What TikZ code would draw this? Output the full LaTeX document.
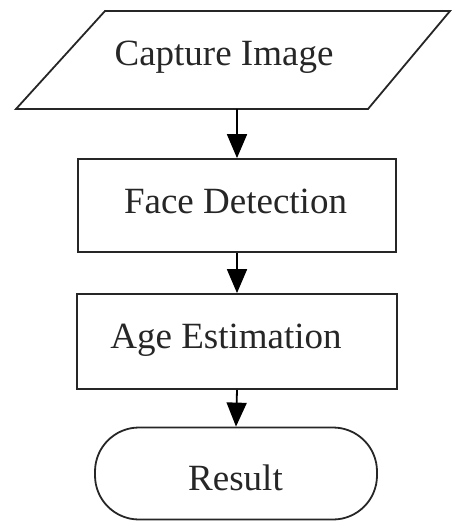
\documentclass[tikz,border=0pt]{standalone}
\usepackage{fontspec}
\setmainfont{Liberation Serif}
\usetikzlibrary{arrows.meta,shapes.misc}
\begin{document}
\begin{tikzpicture}[x=1pt,y=-1pt,
  shapeline/.style={draw=black!85,line width=1.8pt},
  box/.style={shapeline,rectangle,inner sep=0pt},
  txt/.style={font=\fontsize{37}{40}\selectfont,text=black!85,inner sep=0pt,anchor=base},
  flow/.style={draw=black,line width=1.8pt,-{Triangle[width=20pt,length=24pt]}}
]
\useasboundingbox (0,0) rectangle (452,522);
% Capture Image parallelogram
\coordinate (p1) at (105,11);
\coordinate (p2) at (450,11);
\coordinate (p3) at (368,109);
\coordinate (p4) at (16,109);
\draw[shapeline,line join=miter] (p1) -- (p2) -- (p3) -- (p4) -- cycle;
\coordinate (cap) at (237,109);
\node[txt] (capt) at (224,65) {Capture Image};
% Face Detection
\node[box,minimum width=318pt,minimum height=93pt] (fd) at (237,205.5) {};
\node[txt] (fdt) at (235.5,213) {Face Detection};
% Age Estimation
\node[box,minimum width=320pt,minimum height=95pt] (ae) at (237,341.5) {};
\node[txt] (aet) at (226,348) {Age Estimation};
% Result
\node[shapeline,rectangle,rounded corners=44pt,minimum width=282pt,minimum height=92pt,inner sep=0pt] (res) at (236,473.5) {};
\node[txt] (rest) at (235.5,490) {Result};
% arrows
\draw[flow] (cap) -- (fd.north);
\draw[flow] (fd.south) -- (ae.north);
\draw[flow] (ae.south) -- (res.north);
\end{tikzpicture}
\end{document}
